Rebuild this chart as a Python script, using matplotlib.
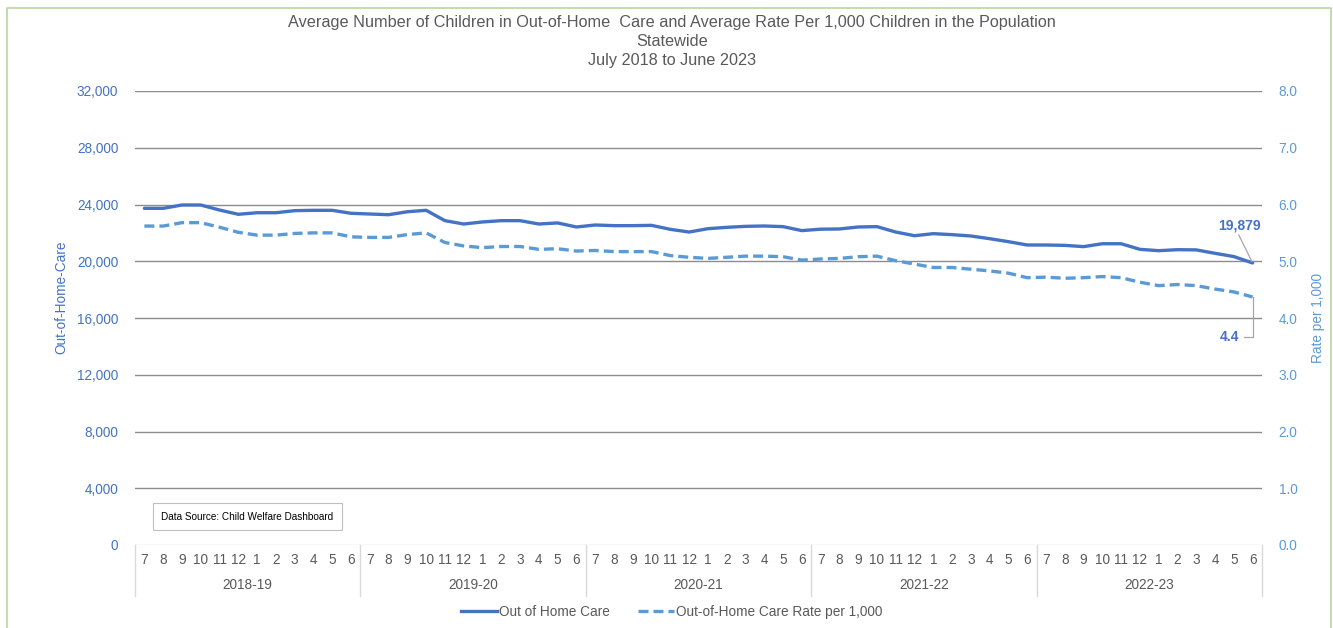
import numpy as np
import matplotlib.pyplot as plt
from matplotlib.lines import Line2D
from matplotlib.transforms import blended_transform_factory

plt.rcParams["font.family"] = ["Liberation Sans", "DejaVu Sans"]

# Datos (julio 2018 a junio 2023)
YEARS = ["2018-19", "2019-20", "2020-21", "2021-22", "2022-23"]
MONTHS = ["7", "8", "9", "10", "11", "12", "1", "2", "3", "4", "5", "6"]

CARE = [
    23730, 23730, 23965, 23965, 23610, 23310, 23420, 23420, 23565, 23590, 23590, 23380,
    23330, 23280, 23490, 23590, 22860, 22625, 22770, 22860, 22860, 22625, 22700, 22415,
    22555, 22510, 22510, 22530, 22250, 22060, 22295, 22390, 22460, 22485, 22440, 22160,
    22260, 22275, 22415, 22440, 22060, 21800, 21945, 21875, 21780, 21590, 21380, 21145,
    21145, 21120, 21030, 21235, 21235, 20840, 20745, 20815, 20800, 20560, 20330, 19879,
]
RATE = [
    5.62, 5.62, 5.68, 5.68, 5.60, 5.51, 5.46, 5.46, 5.49, 5.50, 5.50, 5.43,
    5.42, 5.42, 5.47, 5.50, 5.33, 5.27, 5.24, 5.26, 5.26, 5.21, 5.22, 5.18,
    5.19, 5.17, 5.17, 5.17, 5.10, 5.07, 5.05, 5.07, 5.09, 5.09, 5.08, 5.02,
    5.04, 5.05, 5.08, 5.09, 5.01, 4.95, 4.89, 4.89, 4.86, 4.83, 4.79, 4.71,
    4.72, 4.70, 4.71, 4.73, 4.71, 4.63, 4.57, 4.59, 4.57, 4.51, 4.46, 4.37,
]
CARE_TICKS = [0, 4000, 8000, 12000, 16000, 20000, 24000, 28000, 32000]
RATE_TICKS = [0, 1, 2, 3, 4, 5, 6, 7, 8]

# Colores
DARK_BLUE = "#4472C4"
LIGHT_BLUE = "#5B9BD5"
GRAY_TEXT = "#595959"
GRID = "#8c8c8c"
SEP = "#d9d9d9"
FS = 9.8

x = np.arange(len(CARE))

fig = plt.figure(figsize=(13.33, 6.28), dpi=100)
ax = fig.add_axes([135 / 1333, 1 - 545 / 628, 1127 / 1333, 454 / 628])
ax2 = ax.twinx()

# Marco verde exterior
fig.add_artist(Line2D([7 / 1333, 7 / 1333, 1331 / 1333, 1331 / 1333],
                      [0, 1 - 8 / 628, 1 - 8 / 628, 0],
                      transform=fig.transFigure, color="#b7d7a0", linewidth=1.2))

for v in CARE_TICKS[1:]:
    ax.axhline(v, color=GRID, linewidth=1.0, zorder=0)
ax.axhline(0, color=SEP, linewidth=1.0, zorder=0)

ax.plot(x, CARE, color=DARK_BLUE, linewidth=2.4, solid_capstyle="round", zorder=3)
ax2.plot(x, RATE, color=LIGHT_BLUE, linewidth=2.4, dashes=(3.0, 1.5), zorder=3)

ax.set_xlim(-0.5, len(CARE) - 0.5)
ax.set_ylim(0, 32000)
ax2.set_ylim(0, 8)

ax.set_yticks(CARE_TICKS)
ax.set_yticklabels([f"{v:,}" for v in CARE_TICKS])
ax2.set_yticks(RATE_TICKS)
ax2.set_yticklabels([f"{v:.1f}" for v in RATE_TICKS])

ax.set_xticks(x)
ax.set_xticklabels(MONTHS * len(YEARS))
ax.tick_params(axis="x", length=0, pad=6, labelsize=FS, labelcolor=GRAY_TEXT)
ax.tick_params(axis="y", length=0, pad=12, labelsize=FS, labelcolor=DARK_BLUE)
ax2.tick_params(axis="y", length=0, pad=12, labelsize=FS, labelcolor=LIGHT_BLUE)

for a in (ax, ax2):
    for s in a.spines.values():
        s.set_visible(False)

ax.set_ylabel("Out-of-Home-Care", color=DARK_BLUE, fontsize=FS)
ax.yaxis.set_label_coords(-0.059, 0.545)
ax2.set_ylabel("Rate per 1,000", color=LIGHT_BLUE, fontsize=FS, labelpad=10)

# Eje de categorías en dos niveles
trans = blended_transform_factory(ax.transData, ax.transAxes)
for i in range(len(YEARS) + 1):
    xb = i * 12 - 0.5
    ax.plot([xb, xb], [0, -0.112], transform=trans, color=SEP, linewidth=1.0, clip_on=False)
for i, year in enumerate(YEARS):
    ax.text(i * 12 + 5.5, -0.088, year, transform=trans, ha="center", va="center",
            fontsize=FS, color=GRAY_TEXT)

# Etiquetas del último punto
ax.annotate(f"{CARE[-1]:,}", xy=(x[-1], CARE[-1]), xytext=(58.3, 22060),
            ha="center", va="bottom", fontsize=10, fontweight="bold", color=DARK_BLUE,
            arrowprops=dict(arrowstyle="-", color="#a6a6a6", linewidth=0.9,
                            shrinkA=0, shrinkB=1, relpos=(0.45, 0.0)))
ax2.plot([x[-1], x[-1], x[-1] - 0.45], [RATE[-1], 3.665, 3.665], color="#a6a6a6", linewidth=0.9)
ax2.text(x[-1] - 0.7, 3.665, f"{RATE[-1]:.1f}", ha="right", va="center",
         fontsize=10, fontweight="bold", color=DARK_BLUE)

# Fuente de datos
ax.text(0.9, 2000, "Data Source: Child Welfare Dashboard", fontsize=7.2, color="black",
        ha="left", va="center",
        bbox=dict(boxstyle="square,pad=0.85", facecolor="white", edgecolor="#bfbfbf", linewidth=0.8))

TITLE_X = 0.504
fig.text(TITLE_X, 1 - 22 / 628, "Average Number of Children in Out-of-Home  Care and Average Rate Per 1,000 Children in the Population",
         ha="center", va="center", fontsize=11.7, color=GRAY_TEXT)
fig.text(TITLE_X, 1 - 41 / 628, "Statewide", ha="center", va="center", fontsize=11.7, color=GRAY_TEXT)
fig.text(TITLE_X, 1 - 60 / 628, "July 2018 to June 2023", ha="center", va="center", fontsize=11.7, color=GRAY_TEXT)

handles = [
    Line2D([], [], color=DARK_BLUE, linewidth=2.4),
    Line2D([], [], color=LIGHT_BLUE, linewidth=2.4, dashes=(3.0, 1.5)),
]
fig.legend(handles, ["Out of Home Care", "Out-of-Home Care Rate per 1,000"],
           loc="center", bbox_to_anchor=(0.504, 1 - 612 / 628), ncol=2, frameon=False,
           fontsize=FS, labelcolor=GRAY_TEXT, handlelength=2.65, handletextpad=0.15,
           columnspacing=2.1)

fig.savefig("out.png", dpi=100)
